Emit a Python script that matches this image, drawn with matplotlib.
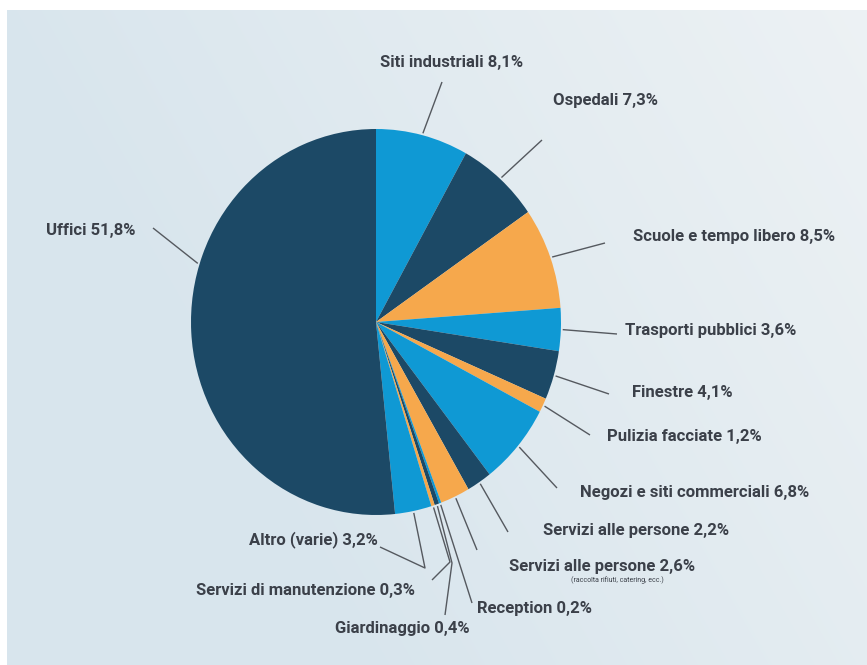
import numpy as np
import matplotlib
matplotlib.use("Agg")
import matplotlib.pyplot as plt

# ---- data ----
labels = ["Siti industriali 8,1%", "Ospedali 7,3%", "Scuole e tempo libero 8,5%",
          "Trasporti pubblici 3,6%", "Finestre 4,1%", "Pulizia facciate 1,2%",
          "Negozi e siti commerciali 6,8%", "Servizi alle persone 2,2%",
          "Servizi alle persone 2,6%", "Reception 0,2%", "Giardinaggio 0,4%",
          "Servizi di manutenzione 0,3%", "Altro (varie) 3,2%", "Uffici 51,8%"]
values = [8.1, 7.3, 8.5, 3.6, 4.1, 1.2, 6.8, 2.2, 2.6, 0.2, 0.4, 0.3, 3.2, 51.8]
sublabel = "(raccolta rifiuti, catering, ecc.)"

NAVY, BLUE, ORANGE = "#1c4966", "#0f99d4", "#f6a84c"
colors = [BLUE, NAVY, ORANGE, BLUE, NAVY, ORANGE, BLUE, NAVY, ORANGE,
          BLUE, NAVY, ORANGE, BLUE, NAVY]

W, H = 867, 665
fig = plt.figure(figsize=(W / 100, H / 100), dpi=100)

# background
bg = fig.add_axes([0, 0, 1, 1])
yy, xx = np.mgrid[0:H, 0:W]
t = np.clip((xx / W) * 0.8 + (1 - yy / H) * 0.35 - 0.35, 0, 1)
base = np.array([0.85, 0.90, 0.93])
light = np.array([0.95, 0.96, 0.965])
img = base[None, None, :] * (1 - t[..., None]) + light[None, None, :] * t[..., None]
img[:10, :, :] = 1.0
img[:, :7, :] = 1.0
bg.imshow(img, extent=[0, W, H, 0], aspect="auto")
bg.set_xlim(0, W)
bg.set_ylim(H, 0)
bg.axis("off")

# pie (slightly elliptical as in reference)
cx, cy, rx, ry = 376, 322, 185, 193
pax = fig.add_axes([(cx - rx) / W, (H - cy - ry) / H, 2 * rx / W, 2 * ry / H])
wedges, _ = pax.pie(values, colors=colors, startangle=90, counterclock=False,
                    radius=1, wedgeprops=dict(linewidth=0))
pax.set_aspect("auto")
pax.set_xlim(-1, 1)
pax.set_ylim(-1, 1)
pax.axis("off")

# overlay for labels
ov = fig.add_axes([0, 0, 1, 1])
ov.set_xlim(0, W)
ov.set_ylim(H, 0)
ov.axis("off")
ov.patch.set_alpha(0)


def edge_point(w, frac=0.5, r=1.0):
    # clockwise fraction along the wedge (clockwise pie: theta2 is the start)
    ang = np.deg2rad(w.theta2 - (w.theta2 - w.theta1) * frac)
    return cx + rx * r * np.cos(ang), cy - ry * r * np.sin(ang)


# label layout: (text x, text y, ha, leader end point(s), frac along wedge)
layout = [
    (452, 62, "center", [(442, 82)], 0.5),
    (553, 101, "left", [(542, 140)], 0.5),
    (633, 237, "left", [(605, 243)], 0.5),
    (625, 331, "left", [(617, 334)], 0.5),
    (632, 393, "left", [(609, 394)], 0.5),
    (607, 437, "left", [(590, 435)], 0.5),
    (580, 492, "left", [(557, 488)], 0.5),
    (543, 530, "left", [(508, 532)], 0.5),
    (509, 567, "left", [(477, 550)], 0.5),
    (477, 609, "left", [(472, 603)], 0.5),
    (470, 628, "right", [(452, 563), (445, 615)], 0.5),
    (415, 591, "right", [(450, 562), (432, 580)], 0.5),
    (378, 540, "right", [(425, 568), (380, 547)], 0.5),
    (135, 230, "right", [(153, 228)], 0.61),
]

TXT = "#3b4049"
LINE = "#55595f"
for w, lab, (tx, ty, ha, pts, frac) in zip(wedges, labels, layout):
    sx, sy = edge_point(w, frac, 1.01)
    xs = [sx] + [p[0] for p in pts]
    ys = [sy] + [p[1] for p in pts]
    ov.plot(xs, ys, color=LINE, lw=1.0, solid_capstyle="butt")
    ov.text(tx, ty, lab, ha=ha, va="center", fontsize=12, color=TXT,
            family="Roboto", fontweight="bold")

ov.text(617, 580, sublabel, ha="center", va="center", fontsize=5,
        color=TXT, family="Roboto")

fig.savefig("out.png", dpi=100)
